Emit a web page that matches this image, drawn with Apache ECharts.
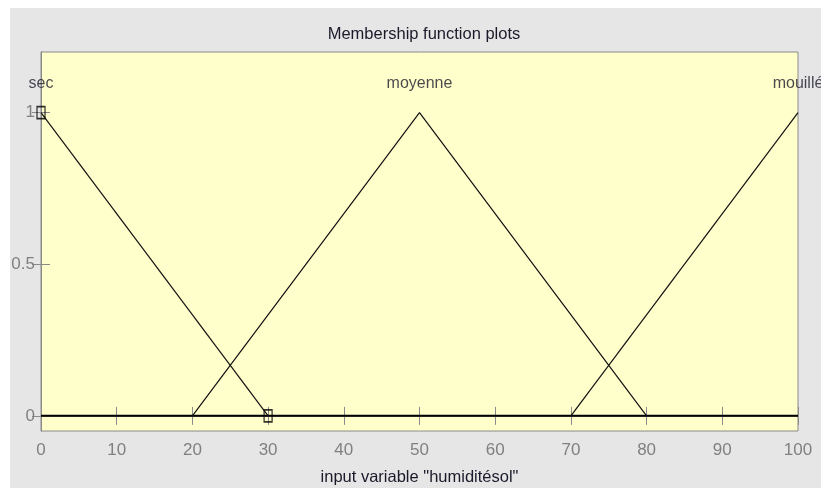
<!DOCTYPE html>
<html>
<head>
<meta charset="utf-8">
<script src="https://cdn.jsdelivr.net/npm/echarts@6/dist/echarts.min.js"></script>
<style>
html,body{margin:0;padding:0;background:#fff;}
#c{width:821px;height:490px;}
</style>
</head>
<body>
<div id="c"></div>
<script>
// Data
const mfNames = ['sec', 'moyenne', 'mouillé'];
const secX = [0, 30];
const secY = [1, 0];
const moyenneX = [20, 50, 80];
const moyenneY = [0, 1, 0];
const mouilleX = [70, 100];
const mouilleY = [0, 1];
const peakX = [0, 50, 100];
const selectedParamX = [0, 30];
const selectedParamY = [1, 0];
const xTicks = [0, 10, 20, 30, 40, 50, 60, 70, 80, 90, 100];
const yTicks = [0, 0.5, 1];
const titleText = 'Membership function plots';
const xAxisName = 'input variable "humiditésol"';

const FONT = '"Liberation Sans", Arial, sans-serif';
const zip = (xs, ys) => xs.map((x, i) => [x, ys[i]]);

const chart = echarts.init(document.getElementById('c'), null, {renderer: 'canvas'});
const axisGray = '#8a8a8a';
const labelGray = '#808080';

const lineBase = {type: 'line', symbol: 'none', silent: true, animation: false,
  lineStyle: {color: '#111', width: 1.2}, xAxisIndex: 0, yAxisIndex: 0};

chart.setOption({
  backgroundColor: '#fff',
  animation: false,
  graphic: [{type: 'rect', z: -10, shape: {x: 10, y: 8, width: 811, height: 480}, style: {fill: '#e6e6e6'}}],
  title: {text: titleText, left: 419, top: 21, textAlign: 'center',
    textStyle: {fontFamily: FONT, fontSize: 16.5, fontWeight: 'normal', color: '#1a1a2a'}},
  grid: {left: 41, right: 23, top: 52, bottom: 59, show: true, backgroundColor: '#ffffcc',
    borderColor: axisGray, borderWidth: 1, outerBoundsMode: 'none', containLabel: false},
  xAxis: [{type: 'value', min: 0, max: 100, interval: 10, position: 'bottom',
    name: xAxisName, nameLocation: 'middle', nameGap: 38,
    nameTextStyle: {fontFamily: FONT, fontSize: 16.5, color: '#1a1a2a'},
    axisLine: {show: true, lineStyle: {color: axisGray}},
    axisTick: {show: true, inside: true, length: 9, lineStyle: {color: axisGray}},
    axisLabel: {fontFamily: FONT, fontSize: 17, color: labelGray, margin: 11},
    splitLine: {show: false}},
   {type: 'value', min: 0, max: 100, interval: 10, position: 'top',
    axisLine: {show: true, lineStyle: {color: axisGray}},
    axisTick: {show: true, inside: true, length: 9, lineStyle: {color: axisGray}},
    axisLabel: {show: false}, splitLine: {show: false}}],
  yAxis: [{type: 'value', min: -0.05, max: 1.2, position: 'left',
    axisLine: {show: true, lineStyle: {color: axisGray}},
    axisTick: {show: true, inside: true, length: 9, customValues: yTicks, lineStyle: {color: axisGray}},
    axisLabel: {fontFamily: FONT, fontSize: 17, color: labelGray, margin: 6, customValues: yTicks},
    splitLine: {show: false}},
   {type: 'value', min: -0.05, max: 1.2, position: 'right',
    axisLine: {show: true, lineStyle: {color: axisGray}},
    axisTick: {show: true, inside: true, length: 9, customValues: yTicks, lineStyle: {color: axisGray}},
    axisLabel: {show: false}, splitLine: {show: false}}],
  series: [
    Object.assign({}, lineBase, {name: 'base', data: [[xTicks[0], 0], [xTicks[xTicks.length - 1], 0]], lineStyle: {color: '#000', width: 2}, z: 3}),
    Object.assign({}, lineBase, {name: mfNames[0], data: zip(secX, secY)}),
    Object.assign({}, lineBase, {name: mfNames[1], data: zip(moyenneX, moyenneY)}),
    Object.assign({}, lineBase, {name: mfNames[2], data: zip(mouilleX, mouilleY)}),
    {type: 'scatter', name: 'params', silent: true, data: zip(selectedParamX, selectedParamY),
     symbol: 'rect', symbolSize: [8, 12], z: 5,
     itemStyle: {color: 'rgba(0,0,0,0)', borderColor: '#000', borderWidth: 1.5}},
    {type: 'scatter', name: 'labels', silent: true, data: peakX.map((x, i) => ({value: [x, 1], name: mfNames[i]})),
     symbolSize: 0, z: 6,
     label: {show: true, position: 'top', distance: 21, formatter: p => p.name,
       fontFamily: FONT, fontSize: 16, color: '#1a1a2a'}}
  ]
});
</script>
</body>
</html>
